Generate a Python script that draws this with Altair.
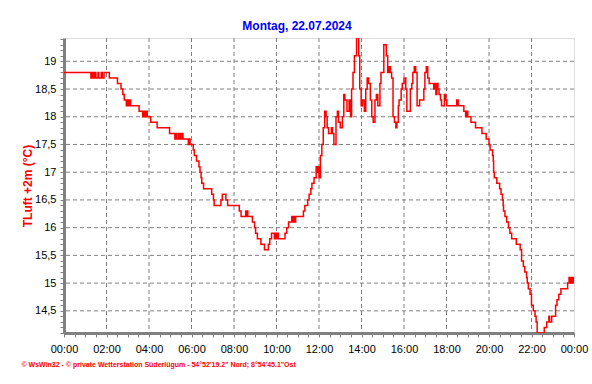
import altair as alt
import pandas as pd

times = [
    "00:00", "01:16", "01:20", "01:23", "01:27", "01:30", "01:36", "01:38", "01:45", "01:48", "01:53",
    "02:08", "02:31", "02:41", "02:46", "02:50", "02:56", "02:58", "03:02", "03:05", "03:08",
    "03:32", "03:42", "03:45", "03:48", "03:52", "03:55",
    "04:02", "04:05", "04:23", "04:58", "05:13", "05:16", "05:19", "05:24", "05:28", "05:32", "05:36",
    "05:51", "05:53", "05:56", "06:05", "06:08", "06:14", "06:21", "06:24", "06:27", "06:29", "06:34",
    "06:57", "07:02", "07:04", "07:23", "07:27", "07:37", "07:42",
    "08:15", "08:20", "08:26", "08:33", "08:35", "08:37", "08:39", "08:52", "08:58",
    "09:01", "09:06", "09:16", "09:26", "09:37", "09:41", "09:46", "09:54", "09:57",
    "10:00", "10:02", "10:05", "10:24", "10:29", "10:34", "10:43", "10:45", "10:48", "10:51", "10:54",
    "11:16", "11:20", "11:28", "11:32", "11:37", "11:40", "11:46", "11:52", "11:55", "11:57",
    "12:00", "12:04", "12:08", "12:12", "12:16", "12:20", "12:23", "12:27", "12:35", "12:38", "12:42",
    "12:48", "12:52", "12:55", "13:00", "13:06", "13:10", "13:13", "13:19", "13:25", "13:29",
    "13:32", "13:36", "13:40", "13:46", "13:52", "13:55", "13:59",
    "14:03", "14:08", "14:12", "14:16", "14:20", "14:25", "14:29", "14:33", "14:38", "14:42", "14:46",
    "14:52", "14:55", "15:03", "15:10", "15:14", "15:18", "15:22", "15:25", "15:29", "15:33", "15:37",
    "15:40", "15:44", "15:46", "15:52", "15:55", "16:00", "16:05", "16:08", "16:18", "16:22", "16:25",
    "16:29", "16:33", "16:37", "16:44", "16:56", "16:59", "17:03", "17:07", "17:11", "17:24", "17:28",
    "17:30", "17:33", "17:36", "17:39", "17:43", "17:46", "17:54", "17:58", "18:01", "18:29", "18:33",
    "18:49", "18:54", "18:57", "19:00", "19:09", "19:22", "19:40", "19:52",
    "20:00", "20:03", "20:10", "20:12", "20:13", "20:15", "20:22", "20:30", "20:34", "20:38", "20:40",
    "20:41", "20:45", "20:50", "20:55", "20:59", "21:04", "21:17", "21:28", "21:32", "21:37", "21:41",
    "21:46", "21:48", "21:51", "21:56", "22:00", "22:05", "22:10", "22:13", "22:16",
    "22:36", "22:43", "22:49", "22:51", "22:57", "23:08", "23:12", "23:17", "23:23",
    "23:42", "23:46", "23:50", "23:52", "23:55", "23:57", "23:59",
]

temps = [
    18.8, 18.7, 18.8, 18.7, 18.8, 18.7, 18.8, 18.7, 18.8, 18.7, 18.8,
    18.7, 18.6, 18.5, 18.4, 18.3, 18.2, 18.3, 18.2, 18.3, 18.2,
    18.1, 18.0, 18.1, 18.0, 18.1, 18.0,
    18.0, 17.9, 17.8, 17.7, 17.6, 17.7, 17.6, 17.7, 17.6, 17.7, 17.6,
    17.5, 17.6, 17.5, 17.4, 17.3, 17.2, 17.1, 17.0, 16.9, 16.8, 16.7,
    16.6, 16.5, 16.4, 16.5, 16.6, 16.5, 16.4,
    16.3, 16.2, 16.2, 16.3, 16.2, 16.3, 16.2, 16.1, 16.0,
    15.9, 15.8, 15.7, 15.6, 15.7, 15.8, 15.9, 15.8, 15.9,
    15.8, 15.9, 15.8, 15.9, 16.0, 16.1, 16.2, 16.1, 16.2, 16.1, 16.2,
    16.3, 16.4, 16.5, 16.6, 16.7, 16.8, 16.9, 17.1, 17.0, 17.1,
    16.9, 17.3, 17.5, 17.8, 18.1, 18.0, 17.8, 17.7, 17.8, 17.7, 17.5,
    18.0, 18.1, 17.9, 17.8, 18.0, 18.4, 18.3, 18.1, 18.3, 18.0,
    18.5, 18.8, 19.1, 19.5, 19.1, 18.5, 18.2,
    18.3, 18.1, 18.5, 18.7, 18.6, 18.3, 18.0, 17.9, 18.3, 18.4, 18.2,
    18.6, 18.8, 19.3, 19.1, 18.8, 18.9, 18.8, 18.7, 18.0, 17.9, 17.8,
    17.9, 18.2, 18.3, 18.5, 18.6, 18.7, 18.5, 18.1, 18.5, 18.6, 18.8,
    18.9, 18.8, 18.2, 18.3, 18.5, 18.8, 18.9, 18.7, 18.6, 18.5, 18.6,
    18.4, 18.6, 18.5, 18.4, 18.3, 18.2, 18.4, 18.3, 18.2, 18.3, 18.2,
    18.1, 18.0, 18.1, 18.0, 17.9, 17.8, 17.7, 17.6,
    17.5, 17.4, 17.3, 17.2, 17.0, 16.9, 16.8, 16.7, 16.6, 16.5, 16.4,
    16.3, 16.2, 16.1, 16.0, 15.9, 15.8, 15.7, 15.6, 15.4, 15.3, 15.2,
    15.1, 15.0, 14.9, 14.8, 14.6, 14.5, 14.4, 14.3, 14.1,
    14.2, 14.3, 14.4, 14.3, 14.4, 14.6, 14.7, 14.8, 14.9,
    15.0, 15.1, 15.0, 15.1, 15.0, 15.1, 15.0,
]

grid_hours = [2, 4, 6, 8, 10, 12, 14, 16, 18, 20, 22]
grid_temps = [14.5, 15.0, 15.5, 16.0, 16.5, 17.0, 17.5, 18.0, 18.5, 19.0]

title_text = "Montag, 22.07.2024"
y_title = "TLuft +2m (°C)"
footer = "© WsWin32  -  © private Wetterstation Süderlügum  -  54°52'19.2\" Nord; 8°54'45.1\"Ost"


def to_hours(s):
    h, m = s.split(":")
    return int(h) + int(m) / 60.0


df = pd.DataFrame({"h": [to_hours(t) for t in times], "temp": temps})
df_vgrid = pd.DataFrame({"h": grid_hours})
df_hgrid = pd.DataFrame({"temp": grid_temps})

FONT = "Liberation Sans"
GRAY = "#808080"
x_ticks = [i * 0.5 for i in range(49)]
y_ticks = [round(14.1 + 0.1 * i, 1) for i in range(54)]

x_scale = alt.Scale(domain=[0, 24], nice=False, zero=False)
y_scale = alt.Scale(domain=[14.1, 19.42], nice=False, zero=False)

x_axis = alt.Axis(
    title=footer,
    titleFont=FONT,
    titleFontSize=7,
    titleFontWeight="bold",
    titleColor="#FF0000",
    titleAnchor="start",
    titleAlign="left",
    titleBaseline="alphabetic",
    titleX=-43,
    titleY=33,
    values=x_ticks,
    labelExpr="datum.value % 2 == 0 ? ((datum.value % 24) < 10 ? '0' : '') + (datum.value % 24) + ':00' : ''",
    labelOverlap=False,
    labelFlush=False,
    labelFont=FONT,
    labelFontSize=11,
    labelColor="black",
    labelPadding=6,
    tickSize=4,
    tickColor=GRAY,
    domainColor=GRAY,
    domainWidth=3,
    grid=False,
)

y_axis = alt.Axis(
    title=y_title,
    titleFont=FONT,
    titleFontSize=12,
    titleFontWeight="bold",
    titleColor="#FF0000",
    titleBaseline="alphabetic",
    titleX=-33,
    values=y_ticks,
    labelExpr="abs(datum.value * 2 - round(datum.value * 2)) < 0.001 ? replace(format(datum.value, '.1~f'), '.', ',') : ''",
    labelOverlap=False,
    labelFlush=False,
    labelFont=FONT,
    labelFontSize=11,
    labelColor="black",
    labelPadding=4,
    tickSize=4,
    tickColor=GRAY,
    domainColor=GRAY,
    domainWidth=3,
    grid=False,
)

vgrid = alt.Chart(df_vgrid).mark_rule(color=GRAY, strokeWidth=1, strokeDash=[4, 3]).encode(
    x=alt.X("h:Q", scale=x_scale, axis=x_axis)
)
hgrid = alt.Chart(df_hgrid).mark_rule(color=GRAY, strokeWidth=1, strokeDash=[4, 3]).encode(
    y=alt.Y("temp:Q", scale=y_scale, axis=y_axis)
)
line = alt.Chart(df).mark_line(
    color="#FF0000", strokeWidth=1.5, interpolate="step-after", clip=True
).encode(
    x=alt.X("h:Q", scale=x_scale, axis=x_axis),
    y=alt.Y("temp:Q", scale=y_scale, axis=y_axis),
)

chart = (
    alt.layer(vgrid, hgrid, line)
    .properties(
        width=510,
        height=295,
        autosize=alt.AutoSizeParams(type="none"),
        padding={"left": 64, "top": 38, "right": 18, "bottom": 51},
        title=alt.TitleParams(
            title_text,
            font=FONT,
            fontSize=12,
            fontWeight="bold",
            color="#0000FF",
            anchor="middle",
            dx=-22,
            offset=0,
        ),
    )
    .configure_view(stroke="black", strokeWidth=2)
    .configure(background="white")
)

chart.save("out.html", embed_options={"renderer": "svg", "actions": False})
